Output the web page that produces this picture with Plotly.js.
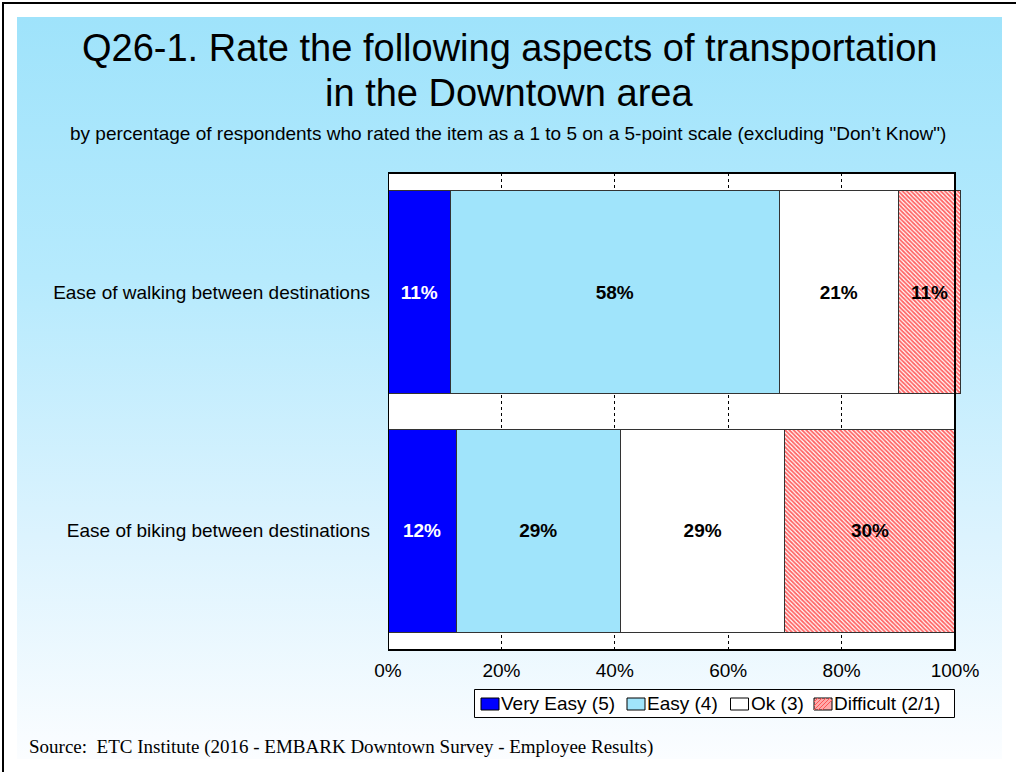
<!DOCTYPE html>
<html>
<head>
<meta charset="utf-8">
<script src="https://cdn.plot.ly/plotly-3.0.1.min.js"></script>
<style>
  html, body { margin: 0; padding: 0; background: #ffffff; overflow: hidden; }
  #frame { position: absolute; left: 2px; top: 2px; width: 1040px; height: 800px;
           border-top: 2px solid #000; border-left: 2px solid #000; }
  #grad { position: absolute; left: 17px; top: 17px; width: 985px; height: 742px;
          background: linear-gradient(to bottom, #9fe3fb 0%, #b6eafd 35%, #dcf3fe 70%, #fbfdff 100%); }
  #chart { position: absolute; left: 0; top: 0; width: 1016px; height: 772px; }
</style>
</head>
<body>
<div id="frame"></div>
<div id="grad"></div>
<div id="chart"></div>
<script>
// ---- data ----
var categories = ["Ease of walking between destinations", "Ease of biking between destinations"];
var seriesNames = ["Very Easy (5)", "Easy (4)", "Ok (3)", "Difficult (2/1)"];
var veryEasy = [11, 12];
var easy = [58, 29];
var ok = [21, 29];
var difficult = [11, 30];
var xTicks = [0, 20, 40, 60, 80, 100];
var xTickLabels = ["0%", "20%", "40%", "60%", "80%", "100%"];

var titleLine1 = "Q26-1. Rate the following aspects of transportation";
var titleLine2 = "in the Downtown area";
var subtitleText = 'by percentage of respondents who rated the item as a 1 to 5 on a 5-point scale (excluding "Don\u2019t Know")';
var sourceText = "Source:\u00a0\u00a0ETC Institute (2016 - EMBARK Downtown Survey - Employee Results)";

// ---- styling / layout ----
var FONT = "Arial, 'Liberation Sans', sans-serif";
var SERIF = "'Liberation Serif', 'Times New Roman', serif";
var seriesColors = ['#0000ff', '#a0e4fb', '#ffffff', '#ffffff'];
var labelColors = ['#ffffff', '#000000', '#000000', '#000000'];
var hatch = { shape: '\\', fgcolor: '#ff6464', bgcolor: '#ffffff', fillmode: 'replace', size: 3, solidity: 0.6 };
var lineStyle = { color: '#333333', width: 1 };

// plot area in pixels
var L = 388, R = 964, T = 173, B = 650;
function px(x) { return (x - L) / (R - L); }
function py(y) { return (B - y) / (B - T); }

var seriesValues = [veryEasy, easy, ok, difficult];
var data = seriesValues.map(function (vals, i) {
  var m = { color: seriesColors[i], line: lineStyle };
  if (i === 3) { m.pattern = hatch; }
  return {
    type: 'bar', orientation: 'h', name: seriesNames[i],
    y: categories, x: vals,
    text: vals.map(function (v) { return v + '%'; }),
    textposition: 'inside', insidetextanchor: 'middle', textangle: 0,
    textfont: { family: FONT, size: 19, color: labelColors[i], weight: 700 },
    constraintext: 'none',
    marker: m,
    showlegend: false,
    hoverinfo: 'skip'
  };
});

var shapes = [
  // white plot background (0..100%)
  { type: 'rect', xref: 'x', yref: 'paper', x0: 0, x1: 100, y0: 0, y1: 1,
    fillcolor: '#ffffff', line: { width: 0 }, layer: 'below' },
  // plot frame
  { type: 'rect', xref: 'x', yref: 'paper', x0: 0, x1: 100, y0: 0, y1: 1,
    fillcolor: 'rgba(0,0,0,0)', line: { color: '#000000', width: 2 }, layer: 'above' },
  // legend box
  { type: 'rect', xref: 'paper', yref: 'paper', x0: px(474.5), x1: px(954.5), y0: py(689.5), y1: py(717.5),
    fillcolor: '#ffffff', line: { color: '#000000', width: 1 }, layer: 'above' }
];

var annotations = [
  { text: titleLine1, showarrow: false, xref: 'paper', yref: 'paper',
    x: px(509), y: py(48), xanchor: 'center', yanchor: 'middle',
    font: { family: FONT, size: 38, color: '#000000' } },
  { text: titleLine2, showarrow: false, xref: 'paper', yref: 'paper',
    x: px(509), y: py(93), xanchor: 'center', yanchor: 'middle',
    font: { family: FONT, size: 38, color: '#000000' } },
  { text: subtitleText, showarrow: false, xref: 'paper', yref: 'paper',
    x: px(508), y: py(133), xanchor: 'center', yanchor: 'middle',
    font: { family: FONT, size: 19, color: '#000000' } },
  { text: sourceText, showarrow: false, xref: 'paper', yref: 'paper',
    x: px(27), y: py(747), xanchor: 'left', yanchor: 'middle',
    font: { family: SERIF, size: 19, color: '#000000' } }
];

// custom legend (swatch + label) built from the series names / colours
var swatchX = [481, 627, 730.5, 814];
var swatchFill = ['#0000ff', '#a0e4fb', '#ffffff', '#ffaaaa'];
seriesNames.forEach(function (name, i) {
  shapes.push({ type: 'rect', xref: 'paper', yref: 'paper',
    x0: px(swatchX[i]), x1: px(swatchX[i] + 18), y0: py(698), y1: py(710),
    fillcolor: swatchFill[i], line: { color: '#000000', width: 1 }, layer: 'above' });
  annotations.push({ text: name, showarrow: false, xref: 'paper', yref: 'paper',
    x: px(swatchX[i] + 18), y: py(703.5), xanchor: 'left', yanchor: 'middle',
    font: { family: FONT, size: 19, color: '#000000' } });
});
// hatch lines on the Difficult swatch
for (var k = 0; k < 6; k++) {
  var x0 = 814 + k * 4;
  shapes.push({ type: 'line', xref: 'paper', yref: 'paper',
    x0: px(Math.min(x0, 832)), y0: py(698 + Math.max(0, x0 - 832)),
    x1: px(Math.max(x0 - 12, 814)), y1: py(Math.min(710, 698 + (x0 - 814))),
    line: { color: '#ff5555', width: 1 }, layer: 'above' });
}

var layout = {
  width: 1016, height: 772,
  paper_bgcolor: 'rgba(0,0,0,0)',
  plot_bgcolor: 'rgba(0,0,0,0)',
  margin: { l: L, r: 1016 - R, t: T, b: 772 - B, pad: 0 },
  barmode: 'stack',
  bargap: 0.15,
  showlegend: false,
  font: { family: FONT, size: 19, color: '#000000' },
  xaxis: {
    range: [0, 100 * (R - L) / (955 - L)],
    tickvals: xTicks, ticktext: xTickLabels,
    showgrid: true, gridcolor: '#000000', gridwidth: 1, griddash: '3px,3px',
    zeroline: false, showline: false,
    ticks: '', ticklabelstandoff: 7,
    tickfont: { family: FONT, size: 19, color: '#000000' },
    fixedrange: true
  },
  yaxis: {
    autorange: 'reversed',
    type: 'category',
    showgrid: false, zeroline: false, showline: false,
    ticks: '', ticklabelstandoff: 17,
    tickfont: { family: FONT, size: 19, color: '#000000' },
    fixedrange: true
  },
  shapes: shapes,
  annotations: annotations
};

Plotly.newPlot('chart', data, layout, { displayModeBar: false, staticPlot: true });
</script>
</body>
</html>
